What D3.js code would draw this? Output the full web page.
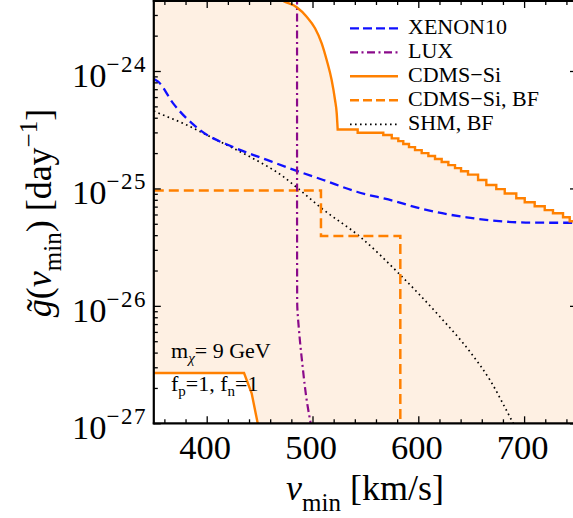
<!DOCTYPE html>
<html><head><meta charset="utf-8">
<script src="https://cdn.jsdelivr.net/npm/d3@7"></script>
<style>
body{margin:0;background:#fff}
svg{display:block}
text{font-family:"Liberation Serif","Times New Roman",serif;fill:#000}
</style>
</head><body>
<svg id="c" width="573" height="518"></svg>
<script>
// ---------- data ----------
const xTicks = [400, 500, 600, 700];
const xTickLabels = ["400", "500", "600", "700"];
const yTicks = [1e-27, 1e-26, 1e-25, 1e-24];
const yTickExp = ["\u221227", "\u221226", "\u221225", "\u221224"];

// XENON10 (blue dashed)
const xenonV = [350, 354.1, 368.1, 393.7, 424.9, 457.0, 488.2, 510.2, 541.8, 576.4, 601.6, 645.7, 708.4, 750];
const xenonG = [8.55e-25, 8.11e-25, 5.33e-25, 3.14e-25, 2.25e-25, 1.75e-25, 1.38e-25, 1.18e-25, 9.37e-26, 7.85e-26, 6.76e-26, 5.67e-26, 5.11e-26, 5.10e-26];

// LUX (purple dash-dot)
const luxV = [485.4, 485.4, 485.5, 487.5, 490.7, 494.5, 498.3, 500.5];
const luxG = [4.3e-24, 1e-25, 1.12e-26, 5.83e-27, 3.03e-27, 1.58e-27, 1e-27, 8e-28];

// CDMS-Si upper bound (orange solid): smooth part then staircase
const cdmsV = [466, 472.4, 485.1, 494.5, 502.4, 508.7, 513.4, 518.1, 521.3, 522.9, 523.8];
const cdmsG = [4.3e-24, 3.95e-24, 3.49e-24, 2.90e-24, 2.31e-24, 1.72e-24, 1.24e-24, 8.38e-25, 5.66e-25, 4.36e-25, 3.18e-25];
const cdmsStepV = [523.8, 542.7, 566.9, 574.9, 581.1, 585.8, 591.2, 596.9, 603.2, 609.5, 615.8, 622.1, 628.4, 634.7, 640.4, 647.0, 656.5, 664.3, 673.7, 681.7, 692.6, 700.6, 710.0, 719.5, 727.3, 736.8, 743.1, 750];
const cdmsStepG = [3.18e-25, 2.98e-25, 2.85e-25, 2.67e-25, 2.53e-25, 2.39e-25, 2.25e-25, 2.12e-25, 2.00e-25, 1.89e-25, 1.78e-25, 1.68e-25, 1.58e-25, 1.49e-25, 1.40e-25, 1.31e-25, 1.18e-25, 1.07e-25, 9.86e-26, 9.06e-26, 8.26e-26, 7.63e-26, 7.06e-26, 6.53e-26, 6.15e-26, 5.69e-26, 5.26e-26, 5.26e-26];

// CDMS-Si lower bound (orange solid, bottom left)
const cdmsLowV = [350, 435.3, 442.5, 448.2, 452];
const cdmsLowG = [2.68e-27, 2.68e-27, 1.80e-27, 1.0e-27, 7e-28];

// CDMS-Si, BF (orange dashed)
const bfV = [350, 508, 508, 583, 583];
const bfG = [9.6e-26, 9.6e-26, 3.94e-26, 3.94e-26, 5e-28];

// SHM, BF (black dotted)
const shmV = [350, 352.7, 381.1, 409.5, 440.9, 472.4, 485.1, 508.7, 544.9, 582.8, 620.5, 648.9, 667.8, 688.3, 700];
const shmG = [4.56e-25, 4.45e-25, 3.47e-25, 2.58e-25, 1.86e-25, 1.26e-25, 1.02e-25, 6.76e-26, 3.88e-26, 1.84e-26, 8.07e-27, 4.06e-27, 2.33e-27, 1.06e-27, 6.8e-28];

const legendLabels = ["XENON10", "LUX", "CDMS\u2212Si", "CDMS\u2212Si, BF", "SHM, BF"];

// ---------- drawing ----------
(function () {
const svg = d3.select("#c");
const pL = 153.8, pR = 577, pT = 1, pB = 423.3;
const x = d3.scaleLinear().domain([350, 750]).range([pL, pR]);
const y = d3.scaleLog().domain([1e-27, 1e-24]).range([pB, 71]);

const ORANGE = "#ff8000", BLUE = "#1010ff", PURPLE = "#8a0a8a";

svg.append("defs").append("clipPath").attr("id", "clip")
  .append("rect").attr("x", pL).attr("y", pT).attr("width", pR - pL).attr("height", pB - pT);

const pts = (V, G) => V.map((v, i) => [v, G[i]]);
const lineMono = d3.line().x(d => x(d[0])).y(d => y(d[1])).curve(d3.curveMonotoneX);
const lineMonoY = d3.line().x(d => x(d[0])).y(d => y(d[1])).curve(d3.curveMonotoneY);
const lineStep = d3.line().x(d => x(d[0])).y(d => y(d[1])).curve(d3.curveStepAfter);
const lineLin = d3.line().x(d => x(d[0])).y(d => y(d[1]));

const plot = svg.append("g").attr("clip-path", "url(#clip)");

const upperSmooth = pts(cdmsV, cdmsG);
const upperStep = pts(cdmsStepV, cdmsStepG);
const lower = pts(cdmsLowV, cdmsLowG);

// shaded allowed region between CDMS-Si bounds
const fillD = `M${x(350)},${y(4.3e-24)}` +
  lineMono(upperSmooth).replace(/^M/, "L") +
  lineStep(upperStep).replace(/^M/, "L") +
  `L${x(750)},${pB + 30}` +
  lineLin(lower.slice().reverse()).replace(/^M/, "L") + "Z";
plot.append("path").attr("d", fillD).attr("fill", "#fef0e3").attr("stroke", "none");

// SHM, BF
plot.append("path").attr("d", lineMono(pts(shmV, shmG)))
  .attr("fill", "none").attr("stroke", "#000").attr("stroke-width", 1.7).attr("stroke-dasharray", "1.6,3.4");
// XENON10
plot.append("path").attr("d", lineMono(pts(xenonV, xenonG)))
  .attr("fill", "none").attr("stroke", BLUE).attr("stroke-width", 2.3).attr("stroke-dasharray", "9,5");
// CDMS-Si BF
plot.append("path").attr("d", lineLin(pts(bfV, bfG)))
  .attr("fill", "none").attr("stroke", ORANGE).attr("stroke-width", 2.5).attr("stroke-dasharray", "10,5");
// LUX
plot.append("path").attr("d", lineMonoY(pts(luxV, luxG)))
  .attr("fill", "none").attr("stroke", PURPLE).attr("stroke-width", 2.2).attr("stroke-dasharray", "8,3.5,2,3.5");
// CDMS-Si upper and lower
plot.append("path").attr("d", lineMono(upperSmooth) + lineStep(upperStep).replace(/^M/, "L"))
  .attr("fill", "none").attr("stroke", ORANGE).attr("stroke-width", 2.4).attr("stroke-linejoin", "miter");
plot.append("path").attr("d", lineLin(lower))
  .attr("fill", "none").attr("stroke", ORANGE).attr("stroke-width", 2.4);

// ---------- axes / ticks ----------
const xMinor = d3.range(360, 750, 20).filter(v => v % 100 !== 0);
const yMinor = [];
for (let e = -28; e <= -24; e++) for (let k = 2; k <= 9; k++) {
  const v = k * Math.pow(10, e);
  if (v > 1e-27 && v < 3.95e-24) yMinor.push(v);
}
function tickGroup(axis, tx, ty) {
  const g = svg.append("g").attr("transform", `translate(${tx},${ty})`).call(axis);
  g.select(".domain").remove();
  g.selectAll("line").attr("stroke", "#000").attr("stroke-width", 1.3);
  g.selectAll("text").remove();
  return g;
}
tickGroup(d3.axisBottom(x).tickValues(xTicks).tickSize(-7).tickFormat(""), 0, pB);
tickGroup(d3.axisBottom(x).tickValues(xMinor).tickSize(-4).tickFormat(""), 0, pB);
tickGroup(d3.axisTop(x).tickValues(xTicks).tickSize(-7).tickFormat(""), 0, pT);
tickGroup(d3.axisTop(x).tickValues(xMinor).tickSize(-4).tickFormat(""), 0, pT);
tickGroup(d3.axisLeft(y).tickValues(yTicks).tickSize(-7).tickFormat(""), pL, 0);
tickGroup(d3.axisLeft(y).tickValues(yMinor).tickSize(-4).tickFormat(""), pL, 0);
tickGroup(d3.axisRight(y).tickValues(yTicks).tickSize(-7).tickFormat(""), pR, 0);
tickGroup(d3.axisRight(y).tickValues(yMinor).tickSize(-4).tickFormat(""), pR, 0);

// frame
const frame = svg.append("g").attr("stroke", "#000").attr("stroke-width", 2.2).attr("fill", "none");
frame.append("line").attr("x1", pL).attr("x2", pL).attr("y1", pT - 1).attr("y2", pB + 1);
frame.append("line").attr("x1", pL - 1).attr("x2", pR).attr("y1", pB).attr("y2", pB);
frame.append("line").attr("x1", pL - 1).attr("x2", pR).attr("y1", pT).attr("y2", pT);
frame.append("line").attr("x1", pR).attr("x2", pR).attr("y1", pT).attr("y2", pB);

// x tick labels
svg.append("g").selectAll("text").data(xTicks).join("text")
  .attr("x", d => x(d) - 1.5).attr("y", 458.5).attr("text-anchor", "middle")
  .style("font-size", "34.5px").text((d, i) => xTickLabels[i]);

// y tick labels
yTicks.forEach((t, i) => {
  const tx = svg.append("text").attr("x", 147).attr("y", y(t) + 15.7)
    .attr("text-anchor", "end").style("font-size", "34.5px");
  tx.append("tspan").text("10");
  tx.append("tspan").attr("dy", -15).style("font-size", "23px").attr("letter-spacing", "1.5px").text(yTickExp[i]);
});

// x label
const xl = svg.append("text").attr("x", 365).attr("y", 500).attr("text-anchor", "middle").style("font-size", "36px");
xl.append("tspan").style("font-style", "italic").text("v");
xl.append("tspan").attr("dy", 11).style("font-size", "25px").text("min");
xl.append("tspan").attr("dy", -11).text(" [km/s]");

// y label
const yl = svg.append("text").attr("transform", "translate(51,213) rotate(-90)")
  .attr("text-anchor", "middle").style("font-size", "36px");
yl.append("tspan").style("font-style", "italic").text("g\u0303");
yl.append("tspan").text("(");
yl.append("tspan").style("font-style", "italic").text("v");
yl.append("tspan").attr("dy", 10).style("font-size", "25px").text("min");
yl.append("tspan").attr("dy", -10).text(") [day");
yl.append("tspan").attr("dy", -14).style("font-size", "25px").text("\u22121");
yl.append("tspan").attr("dy", 14).text("]");

// legend
const legendStyles = [
  {c: BLUE, w: 2.3, d: "9,4"},
  {c: PURPLE, w: 2.3, d: "8,3.5,2,3.5"},
  {c: ORANGE, w: 2.6, d: null},
  {c: ORANGE, w: 2.6, d: "9,4"},
  {c: "#000", w: 1.7, d: "1.6,3.4"}
];
const lg = svg.append("g");
legendLabels.forEach((lab, i) => {
  const yc = 28.3 + i * 24;
  const s = legendStyles[i];
  const ln = lg.append("line").attr("x1", 350).attr("x2", 398).attr("y1", yc).attr("y2", yc)
    .attr("stroke", s.c).attr("stroke-width", s.w);
  if (s.d) ln.attr("stroke-dasharray", s.d);
  lg.append("text").attr("x", 408).attr("y", yc + 5.5).style("font-size", "22px").text(lab);
});

// annotations
const a1 = svg.append("text").attr("x", 171).attr("y", 358).style("font-size", "22px");
a1.append("tspan").text("m");
a1.append("tspan").attr("dy", 5).style("font-size", "15px").style("font-style", "italic").text("\u03c7");
a1.append("tspan").attr("dy", -5).text("= 9 GeV");
const a2 = svg.append("text").attr("x", 171).attr("y", 391).style("font-size", "22px");
a2.append("tspan").text("f");
a2.append("tspan").attr("dy", 5).style("font-size", "15px").text("p");
a2.append("tspan").attr("dy", -5).text("=1, f");
a2.append("tspan").attr("dy", 5).style("font-size", "15px").text("n");
a2.append("tspan").attr("dy", -5).text("=1");
})();
</script>
</body></html>
